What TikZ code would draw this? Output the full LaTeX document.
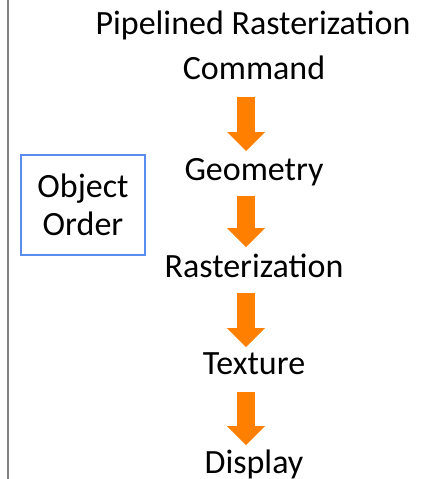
\documentclass[tikz,border=0pt]{standalone}
\usepackage{fontspec}
\setmainfont{Carlito}
\usetikzlibrary{arrows.meta}
\definecolor{pipeorange}{RGB}{255,128,0}
\definecolor{boxblue}{RGB}{90,140,240}
\begin{document}
\begin{tikzpicture}[x = 1pt, y = -1pt,
        every node/.style = {font = \fontsize{34}{38}\selectfont, inner sep = 0pt},
        stage/.style = {anchor = base},
        pipe/.style = {draw = pipeorange, line width = 18pt,
            -{Triangle[width = 38pt, length = 19pt, line width = 0pt]}}]

            \useasboundingbox (0, 0) rectangle (439, 479);
            \draw[gray, line width = 1.5pt] (8, 0) -- (8, 479);

            \node (title) at (253, 34) [stage] {Pipelined Rasterization};
            \node (cmd) at (254, 79) [stage] {Command};
            \node (geo) at (254, 180) [stage] {Geometry};
            \node (rast) at (254, 277) [stage] {Rasterization};
            \node (tex) at (254, 374) [stage] {Texture};
            \node (disp) at (254, 473) [stage] {Display};

            \node (order) at (83, 205) [draw = boxblue, line width = 1.2pt, align = center,
                minimum width = 124pt, minimum height = 100pt] {Object\\Order};

            \draw[pipe] ([shift = {(-8, 18)}] cmd.base) -- ([shift = {(-8, -29)}] geo.base);
            \draw[pipe] ([shift = {(-8, 16)}] geo.base) -- ([shift = {(-8, -30)}] rast.base);
            \draw[pipe] ([shift = {(-8, 16)}] rast.base) -- ([shift = {(-8, -27)}] tex.base);
            \draw[pipe] ([shift = {(-8, 18)}] tex.base) -- ([shift = {(-8, -28)}] disp.base);
        \end{tikzpicture}
\end{document}
